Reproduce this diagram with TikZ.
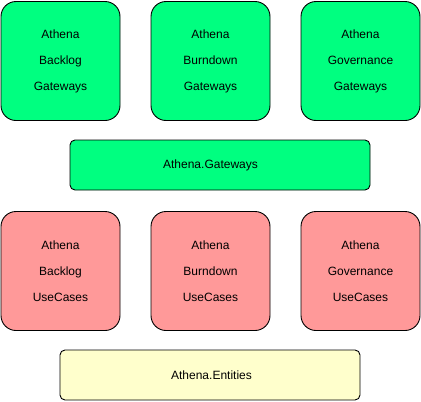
\documentclass[tikz,border=0pt]{standalone}
\usepackage{fontspec}
\setmainfont{Liberation Sans}
\begin{document}
\begin{tikzpicture}[x=1pt,y=-1pt,
  box/.style={draw=black,line width=0.9pt,rounded corners=15pt,minimum width=119pt,minimum height=119pt,inner sep=0pt,align=center,font=\fontsize{12}{26}\selectfont},
  layer/.style={draw=black,line width=0.9pt,rounded corners=5pt,minimum width=300pt,minimum height=50pt,inner sep=0pt,font=\fontsize{12}{14}\selectfont},
  gw/.style={fill=gwgreen},
  uc/.style={fill=ucred}]
\definecolor{gwgreen}{HTML}{00FF80}
\definecolor{ucred}{HTML}{FF9999}
\definecolor{entyellow}{HTML}{FFFFCC}
\useasboundingbox (0,0) rectangle (421,402);
\node[box,gw] (bg) at (60.5,61) {Athena\\Backlog\\Gateways};
\node[box,gw] (dg) at (210.5,61) {Athena\\Burndown\\Gateways};
\node[box,gw] (gg) at (360.5,61) {Athena\\Governance\\Gateways};
\node[layer,fill=gwgreen] (gws) at (220,165) {\hspace*{-19pt}Athena.Gateways};
\node[box,uc] (bu) at (60.5,271) {Athena\\Backlog\\UseCases};
\node[box,uc] (du) at (210.5,271) {Athena\\Burndown\\UseCases};
\node[box,uc] (gu) at (360.5,271) {Athena\\Governance\\UseCases};
\node[layer,fill=entyellow] (ent) at (210,375) {\hspace*{3pt}Athena.Entities};
\end{tikzpicture}
\end{document}
